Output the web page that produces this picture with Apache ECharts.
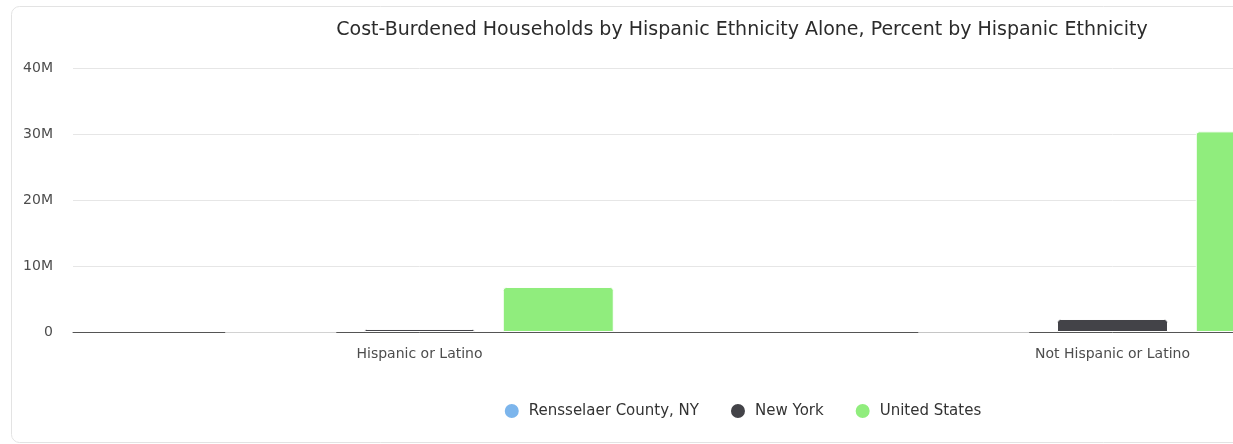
<!DOCTYPE html>
<html>
<head>
<meta charset="utf-8">
<script src="https://cdn.jsdelivr.net/npm/echarts@6/dist/echarts.min.js"></script>
<style>
html{overflow:hidden;}
html,body{margin:0;padding:0;background:#fff;}
#chart{width:1484px;height:444px;}
</style>
</head>
<body>
<div id="chart"></div>
<script>
const titleText = "Cost-Burdened Households by Hispanic Ethnicity Alone, Percent by Hispanic Ethnicity";
const categories = ["Hispanic or Latino", "Not Hispanic or Latino"];
const seriesNames = ["Rensselaer County, NY", "New York", "United States"];
const rensselaer = [3000, 22000];
const newYork = [450000, 1970000];
const unitedStates = [6820000, 30400000];
const colors = ["#7cb5ec", "#434348", "#90ed7d"];
const yTicks = [0, 10000000, 20000000, 30000000, 40000000];

const font = '"DejaVu Sans", sans-serif';
const chart = echarts.init(document.getElementById('chart'), null, {renderer: 'canvas'});
const seriesData = [rensselaer, newYork, unitedStates];

chart.setOption({
  animation: false,
  color: colors,
  textStyle: {fontFamily: font},
  graphic: [{
    type: 'rect', z: -10, silent: true,
    shape: {x: 11.5, y: 6.5, width: 1461, height: 436, r: 8},
    style: {fill: 'none', stroke: '#e3e3e3', lineWidth: 1}
  }],
  title: {
    text: titleText,
    left: 'center', top: 16,
    textStyle: {fontFamily: font, fontSize: 19, fontWeight: 'normal', color: '#2b2b2b'}
  },
  legend: {
    data: seriesNames,
    left: 'center', top: 397,
    icon: 'circle',
    itemWidth: 16, itemHeight: 16,
    itemGap: 30,
    textStyle: {fontFamily: font, fontSize: 15, color: '#333333', padding: [0, 0, 0, 4]}
  },
  grid: {left: 73, top: 68, right: 25, height: 264, containLabel: false},
  xAxis: {
    type: 'category',
    data: categories,
    axisLine: {show: true, lineStyle: {color: '#555555', width: 1}},
    axisTick: {show: false},
    axisLabel: {fontFamily: font, fontSize: 14, color: '#4d4d4d', margin: 15}
  },
  yAxis: {
    type: 'value',
    min: yTicks[0], max: yTicks[yTicks.length - 1], interval: yTicks[1] - yTicks[0],
    axisLine: {show: false},
    axisTick: {show: false},
    splitLine: {lineStyle: {color: '#e6e6e6', width: 1}},
    axisLabel: {
      fontFamily: font, fontSize: 14, color: '#4d4d4d', margin: 20,
      formatter: v => v === 0 ? '0' : (v / 1000000) + 'M'
    }
  },
  series: seriesNames.map((name, i) => ({
    name: name,
    type: 'bar',
    data: seriesData[i],
    barWidth: 111,
    barGap: '25%',
    itemStyle: {color: colors[i], borderColor: '#ffffff', borderWidth: 1, borderRadius: [3, 3, 0, 0]}
  }))
});
</script>
</body>
</html>
